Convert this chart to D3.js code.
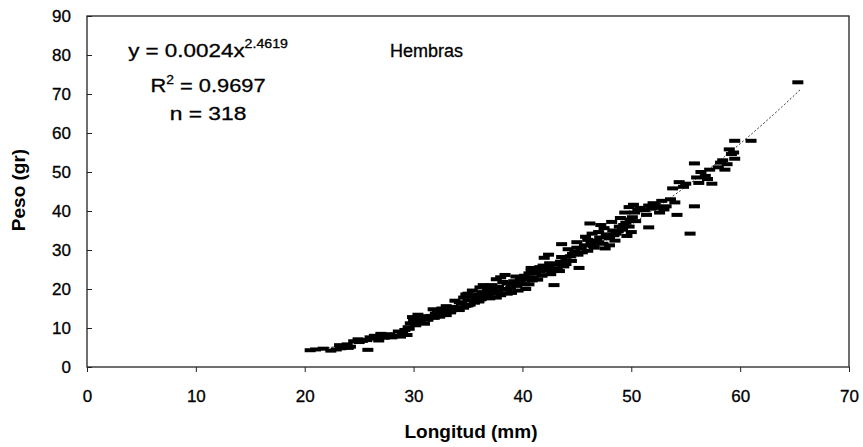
<!DOCTYPE html>
<html><head><meta charset="utf-8">
<script src="https://cdn.jsdelivr.net/npm/d3@7/dist/d3.min.js"></script>
<style>
body{margin:0;background:#fff}
text{font-family:"Liberation Sans",Arial,sans-serif;fill:#000}
</style>
</head><body>
<svg id="c" width="863" height="447"></svg>
<script>
// ---- data ----
const longitud = [
 20.5,21.0,21.7,22.4,22.9,23.3,23.6,23.9,23.2,24.0,25.8,24.5,24.9,25.3,25.7,26.2,26.6,27.0,27.3,27.6,
 27.0,28.0,28.4,28.8,29.0,28.6,29.2,29.5,29.7,30.0,30.3,30.6,30.8,31.0,30.2,31.3,29.9,31.6,32.0,32.4,
 32.8,33.2,33.6,32.6,33.0,34.0,34.4,34.8,35.0,35.3,35.6,35.8,36.0,36.3,36.6,36.8,37.0,37.2,35.0,34.6,
 36.1,37.4,37.8,38.0,38.3,38.6,38.9,39.2,39.5,39.8,40.0,40.3,37.6,38.0,38.4,36.5,37.0,39.0,40.2,40.6,
 41.0,41.3,41.6,41.9,42.2,42.5,42.8,43.1,43.5,43.8,40.8,41.4,42.9,42.0,42.4,43.6,44.4,44.8,45.1,45.4,
 45.7,46.0,46.3,46.6,44.5,45.2,46.8,47.1,47.4,47.7,48.0,48.3,48.6,48.9,47.0,47.5,48.0,48.5,47.6,46.2,
 49.2,49.5,49.8,50.1,50.4,49.4,49.8,50.2,50.6,50.0,49.6,51.6,55.4,51.2,51.6,52.0,52.4,52.8,53.2,53.6,
 54.0,51.4,52.6,54.2,55.8,53.8,54.4,54.8,55.8,56.0,56.4,56.8,57.2,56.2,57.4,58.0,58.4,58.8,59.2,59.5,
 59.0,58.6,59.5,61.0,65.3,34.2,35.2,36.0,36.9,37.6,38.6,39.6,40.6,39.4,40.9,41.8,42.6,43.4,44.0,44.2,
 45.0,45.8,46.4,47.2,48.2,49.0,33.8,31.8,30.4,26.8,35.4,34.8,
 23.5,24.2,25.0,26.0,26.4,27.8,28.2,29.4,29.6,30.1,30.5,31.2,31.9,32.2,33.0,33.4,34.2,34.6,35.0,35.6,
 36.2,36.4,36.8,37.3,37.7,38.2,38.6,39.0,39.4,39.8,40.2,40.5,40.8,41.2,41.6,42.0,42.4,42.8,43.2,43.6,
 44.0,44.6,45.0,45.5,46.0,46.5,47.0,47.8,48.4,48.8,49.3,49.9,50.3,50.8,51.8,52.2,53.0,55.0,57.0,58.2,
 59.4
];
const peso = [
 4.3,4.5,4.7,4.2,4.5,4.8,5.4,5.8,5.6,4.9,4.4,6.6,7.1,6.7,6.9,7.3,7.7,8.1,7.5,8.2,
 8.5,7.6,8.0,7.8,8.7,9.1,9.5,10.2,11.2,11.9,12.6,11.6,12.9,11.1,10.7,12.1,12.8,13.1,13.7,12.9,
 14.1,14.7,15.4,15.0,13.3,15.1,16.2,15.7,17.1,18.0,16.5,17.4,18.6,19.2,17.9,20.1,18.8,21.0,18.8,17.8,
 20.4,19.4,20.6,18.4,19.8,21.4,20.2,22.0,20.8,21.6,22.4,20.0,22.5,23.0,23.6,19.0,17.6,19.0,23.4,24.0,
 23.0,25.0,24.4,26.0,25.2,26.6,24.6,26.2,27.0,25.8,25.4,22.4,21.0,28.0,28.8,31.5,28.4,29.6,28.8,30.4,
 31.2,29.8,31.8,30.6,27.2,25.4,32.4,33.2,31.6,34.0,33.0,35.0,34.2,36.0,34.6,35.6,31.2,32.4,30.4,36.8,
 35.2,37.0,36.0,38.4,37.4,39.6,41.0,41.6,40.2,34.6,33.6,35.8,34.2,40.2,41.4,42.0,40.8,42.6,41.2,43.0,
 42.2,39.0,39.6,39.0,41.2,45.8,47.4,46.2,52.2,48.6,50.0,49.0,50.6,47.2,47.0,51.2,53.0,52.0,54.6,53.4,
 55.8,50.6,58.0,58.0,73.0,14.6,16.0,16.8,18.2,17.8,18.8,19.6,21.2,23.2,22.2,23.4,23.8,24.6,26.4,30.2,
 32.0,33.4,34.2,36.4,37.2,38.2,17.0,14.8,13.4,6.8,19.6,18.6,
 5.0,5.2,6.4,7.6,8.0,8.4,7.9,8.2,9.8,11.2,12.2,13.0,12.6,14.2,15.6,14.0,16.6,15.2,15.8,18.4,
 17.4,21.0,19.6,20.2,19.0,21.8,20.0,21.0,21.4,22.8,21.2,22.6,24.6,24.0,25.6,24.8,25.8,26.4,25.2,28.2,
 27.4,29.0,30.6,29.4,32.6,31.0,32.0,33.6,33.8,34.8,36.4,37.8,39.6,40.8,40.6,41.6,40.4,47.0,48.2,52.4,
 55.0
];
const xTicks = [0,10,20,30,40,50,60,70];
const yTicks = [0,10,20,30,40,50,60,70,80,90];
const fitCoef = 0.0024, fitExp = 2.4619;
const fitRange = [20.3, 65.6];
const eqText = "y = 0.0024x", eqSup = "2.4619";
const r2Text = " = 0.9697";
const nText = "n = 318";
const groupLabel = "Hembras";
const xTitle = "Longitud (mm)", yTitle = "Peso (gr)";

// ---- layout ----
const svg = d3.select("#c");
const L = 87, R = 849, T = 16, B = 367;
const x = d3.scaleLinear().domain([0,70]).range([L,R]);
const y = d3.scaleLinear().domain([0,90]).range([B,T]);

// trend line (from the fitted equation printed on the chart)
const fitXs = d3.range(fitRange[0], fitRange[1], 0.25).concat([fitRange[1]]);
svg.append("path")
  .datum(fitXs)
  .attr("fill","none").attr("stroke","#333").attr("stroke-width",1)
  .attr("stroke-dasharray","2,2")
  .attr("d", d3.line().x(d=>x(d)).y(d=>y(fitCoef*Math.pow(d,fitExp))));

// points (dash markers)
const pts = longitud.map((l,i)=>({l, p: peso[i]}));
svg.append("g").selectAll("rect").data(pts).join("rect")
  .attr("x", d=>x(d.l)-5.5).attr("y", d=>y(d.p)-2)
  .attr("width",11).attr("height",4).attr("fill","#000");

// axes
const xAxis = svg.append("g").attr("transform",`translate(0,${B})`)
  .call(d3.axisBottom(x).tickValues(xTicks).tickSize(5).tickSizeOuter(0).tickPadding(18));
const yAxis = svg.append("g").attr("transform",`translate(${L},0)`)
  .call(d3.axisLeft(y).tickValues(yTicks).tickSize(-5).tickSizeOuter(0).tickPadding(16));
[xAxis,yAxis].forEach(g=>{
  g.select(".domain").remove();
  g.selectAll(".tick line").attr("stroke","#222");
  g.selectAll(".tick text").attr("font-size",17).attr("font-family","Liberation Sans, Arial, sans-serif")
    .attr("fill","#000").attr("stroke","#000").attr("stroke-width",0.3);
});

// frame
svg.append("rect").attr("x",L).attr("y",T).attr("width",R-L).attr("height",B-T)
  .attr("fill","none").attr("stroke","#222").attr("stroke-width",1.3);

// axis titles
svg.append("text").attr("x",471).attr("y",438).attr("text-anchor","middle")
  .attr("font-size",19).attr("font-weight","bold").text(xTitle);
svg.append("text").attr("transform","translate(25,190) rotate(-90)").attr("text-anchor","middle")
  .attr("font-size",19).attr("font-weight","bold").text(yTitle);

// annotations
const ann = svg.append("g").attr("stroke","#000").attr("stroke-width",0.3);
const t1 = ann.append("text").attr("transform","translate(208,57) scale(1.18,1)")
  .attr("text-anchor","middle").attr("font-size",19);
t1.append("tspan").text(eqText);
t1.append("tspan").attr("dy",-9).attr("font-size",12).text(eqSup);

const t2 = ann.append("text").attr("transform","translate(208,92) scale(1.15,1)")
  .attr("text-anchor","middle").attr("font-size",19);
t2.append("tspan").text("R");
t2.append("tspan").attr("dy",-8).attr("font-size",12).text("2");
t2.append("tspan").attr("dy",8).text(r2Text);

ann.append("text").attr("transform","translate(208,120) scale(1.2,1)")
  .attr("text-anchor","middle").attr("font-size",19).text(nText);

ann.append("text").attr("x",390).attr("y",57).attr("font-size",18).text(groupLabel);
</script>
</body></html>
